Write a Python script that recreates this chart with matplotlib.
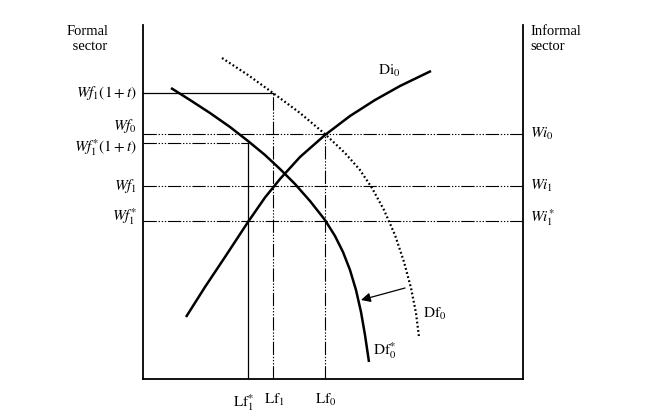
"""Formal / informal sector labour market diagram."""
import matplotlib
matplotlib.use("Agg")
import matplotlib.pyplot as plt

# --- data (diagram units: x = labour, y = wage) ---------------------------
X_MAX, Y_MAX = 380, 354

# wage levels
wf1_tax = 286      # Wf1(1+t)
wf0 = 245          # Wf0 = Wi0
wf1s_tax = 236     # Wf*1(1+t)
wf1 = 193          # Wf1 = Wi1
wf1s = 158         # Wf1* = Wi1*

# labour levels
lf1s = 105         # Lf1*
lf1 = 130          # Lf1
lf0 = 182          # Lf0

# demand curve Df0* (formal, after shift)
df0s_x = [28, 47, 67, 87, 105, 122, 137, 152, 167, 182, 192, 200, 207, 213, 218, 222, 226]
df0s_y = [291, 279, 266, 252, 238, 224, 210, 195, 178, 159, 143, 127, 109, 89, 67, 44, 17]

# demand curve Df0 (formal, original, dotted)
df0_x = [79, 105, 130, 157, 182, 202, 217, 229, 241, 252, 261, 268, 273, 276]
df0_y = [321, 304, 286, 266, 245, 226, 209, 191, 169, 144, 117, 91, 66, 42]

# informal demand curve Di0
di0_x = [43, 62, 82, 105, 122, 137, 157, 182, 207, 232, 257, 288]
di0_y = [62, 92, 122, 157, 181.5, 200, 222, 244, 263, 279, 293, 308]

left_labels = [r"$Wf_{\mathit{1}}\mathrm{(1+}t\mathrm{)}$", r"$Wf_{\mathit{0}}$",
               r"$Wf^{*}_{\mathit{1}}\mathrm{(1+}t\mathrm{)}$", r"$Wf_{\mathit{1}}$",
               r"$Wf_{\mathit{1}}^{*}$"]
left_y = [wf1_tax, wf0 + 8, wf1s_tax - 5, wf1, wf1s + 4]
right_labels = [r"$Wi_{\mathit{0}}$", r"$Wi_{\mathit{1}}$", r"$Wi_{\mathit{1}}^{*}$"]
right_y = [wf0, wf1, wf1s + 3]
bottom_labels = [r"$\mathrm{Lf}_{\mathit{1}}^{*}$", r"$\mathrm{Lf}_{\mathit{1}}$",
                 r"$\mathrm{Lf}_{\mathit{0}}$"]
bottom_x = [lf1s - 4, lf1 + 1, lf0 + 1]

plt.rcParams["font.family"] = ["Liberation Serif", "DejaVu Serif"]
plt.rcParams["mathtext.fontset"] = "stix"

W, H = 648, 418
fig = plt.figure(figsize=(W / 100, H / 100), dpi=100)
# axes frame: left spine at px 143, right at 523, bottom at 379, top at 25
ax = fig.add_axes([143 / W, (H - 379) / H, 380 / W, 354 / H])
ax.set_xlim(0, X_MAX)
ax.set_ylim(0, Y_MAX)
ax.set_xticks([])
ax.set_yticks([])
ax.spines["top"].set_visible(False)
for s in ("left", "right", "bottom"):
    ax.spines[s].set_linewidth(1.3)
ax.patch.set_alpha(0)

ddot = dict(color="black", lw=0.8, dashes=(12, 1.6, 1.2, 1.6, 1.2, 1.6, 1.2, 1.6))
solid = dict(color="black", lw=0.9)

# reference lines
ax.plot([0, lf1], [wf1_tax, wf1_tax], **solid)
ax.plot([lf1, lf1], [0, wf1_tax], **ddot)
ax.plot([0, X_MAX], [wf0, wf0], **ddot)
ax.plot([lf0, lf0], [0, wf0], **ddot)
ax.plot([0, lf1s], [wf1s_tax, wf1s_tax], **ddot)
ax.plot([lf1s, lf1s], [0, wf1s_tax], **solid)
ax.plot([0, X_MAX], [wf1, wf1], **ddot)
ax.plot([0, X_MAX], [wf1s, wf1s], **ddot)

# curves
ax.plot(df0s_x, df0s_y, color="black", lw=1.8, solid_capstyle="butt")
ax.plot(di0_x, di0_y, color="black", lw=1.8, solid_capstyle="butt")
ax.plot(df0_x, df0_y, color="black", lw=1.6, linestyle=(0, (0.8, 1.1)))

# shift arrow
ax.annotate("", xy=(218, 79), xytext=(262, 91),
            arrowprops=dict(arrowstyle="-|>", color="black", lw=0.9,
                            mutation_scale=14, shrinkA=0, shrinkB=0))

fs = 11
for lab, y in zip(left_labels, left_y):
    ax.text(-6, y, lab, ha="right", va="center", fontsize=fs)
for lab, y in zip(right_labels, right_y):
    ax.text(X_MAX + 7, y, lab, ha="left", va="center", fontsize=fs)
for lab, x in zip(bottom_labels, bottom_x):
    ax.text(x, -13, lab, ha="center", va="top", fontsize=fs)

ax.text(235, 300, r"$\mathrm{Di}_{\mathit{0}}$", ha="left", va="bottom", fontsize=fs)
ax.text(280, 57, r"$\mathrm{Df}_{\mathit{0}}$", ha="left", va="bottom", fontsize=fs)
ax.text(230, 18, r"$\mathrm{Df}_{\mathit{0}}^{*}$", ha="left", va="bottom", fontsize=fs)

ax.text(-55, Y_MAX, "Formal\n sector", ha="center", va="top", fontsize=10.5,
        linespacing=1.15)
ax.text(X_MAX + 7, Y_MAX, "Informal\nsector", ha="left", va="top", fontsize=10.5,
        linespacing=1.15)

fig.savefig("out.png", dpi=100)
